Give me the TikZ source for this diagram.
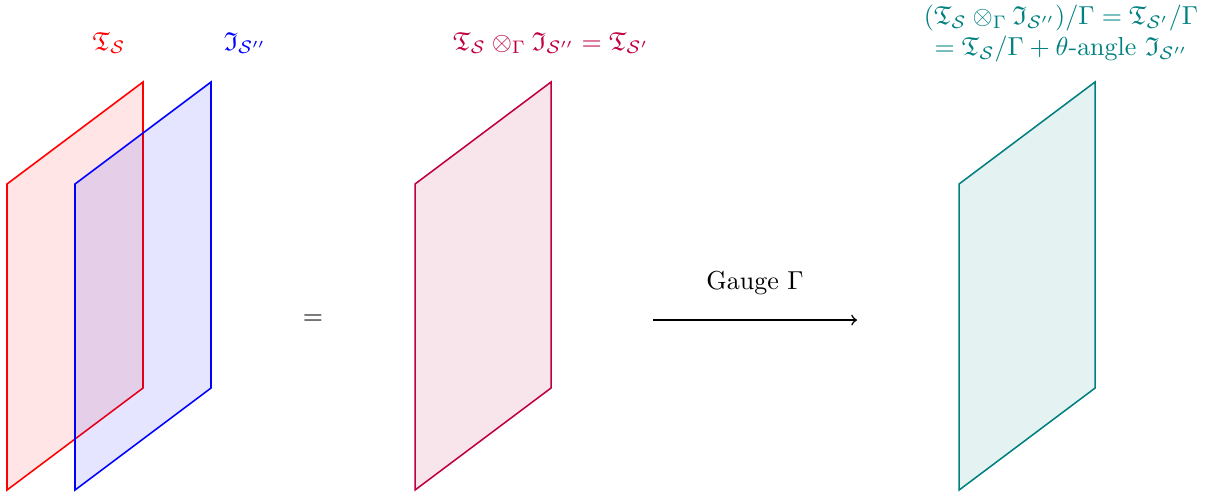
\documentclass[tikz,border=0pt]{standalone}
\usepackage{xcolor}
\usepackage{amsmath}
\usepackage{amssymb}
\usepackage{tikz}
\usetikzlibrary{calc}
\usetikzlibrary{arrows}

\begin{document}
\begin{tikzpicture} [scale=.92]
\useasboundingbox (-0.103,-0.147) rectangle (17.69,7.206);
\foreach \x/\c in {0/red,1/blue,6/purple,14/teal} {
 \draw[\c,semithick,fill=\c,fill opacity=.1,draw opacity=1] (\x,0) -- (\x,4.5) --++(2,1.5) --++(0,-4.5) -- cycle;
}
\node[red,anchor=base] (lblT) at (1.5,6.47) {$\mathfrak{T}_{\mathcal{S}}$};
\node[blue,anchor=base] (lblI) at (3.5,6.47) {$\mathfrak{I}_{\mathcal{S}''}$};
\node[purple,anchor=base] (lblprod) at (8,6.47) {$\mathfrak{T}_{\mathcal{S}}\otimes_\Gamma\mathfrak{I}_{\mathcal{S}''}=\mathfrak{T}_{\mathcal{S}'}$};
\node[teal,align=center] (lblgauged) at (15.5,6.71) {$(\mathfrak{T}_{\mathcal{S}}\otimes_\Gamma\mathfrak{I}_{\mathcal{S}''})/\Gamma=\mathfrak{T}_{\mathcal{S}'}/\Gamma$\\$=\mathfrak{T}_{\mathcal{S}}/\Gamma+\theta\text{-angle }\mathfrak{I}_{\mathcal{S}''}$};
\node (eq) at (4.5,2.5) {$=$};
\coordinate (gfrom) at (9.5,2.5);
\coordinate (gto) at (12.5,2.5);
\draw[black,semithick,->] (gfrom) -- (gto);
\node (gauge) at (11,3.05) {Gauge $\Gamma$};
\end{tikzpicture}
\end{document}
